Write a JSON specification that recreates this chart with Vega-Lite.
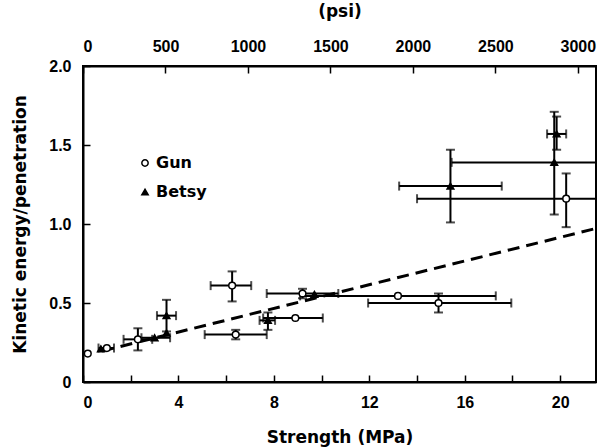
{
  "$schema": "https://vega.github.io/schema/vega-lite/v6.json",
  "width": 513,
  "height": 316,
  "autosize": {"type": "none"},
  "padding": {"left": 83, "top": 66, "right": 10, "bottom": 66},
  "background": "white",
  "datasets": {
    "pts": [
      {"s": "Gun", "x": 0.2, "y": 0.18, "xmin": null, "xmax": null, "ymin": null, "ymax": null},
      {"s": "Gun", "x": 1.0, "y": 0.215, "xmin": 0.65, "xmax": 1.3, "ymin": null, "ymax": null},
      {"s": "Gun", "x": 2.3, "y": 0.27, "xmin": 1.7, "xmax": 2.9, "ymin": 0.2, "ymax": 0.34},
      {"s": "Gun", "x": 6.25, "y": 0.61, "xmin": 5.35, "xmax": 7.05, "ymin": 0.51, "ymax": 0.7},
      {"s": "Gun", "x": 6.4, "y": 0.3, "xmin": 5.1, "xmax": 7.7, "ymin": 0.27, "ymax": 0.33},
      {"s": "Gun", "x": 8.9, "y": 0.405, "xmin": 7.55, "xmax": 10.05, "ymin": null, "ymax": null},
      {"s": "Gun", "x": 9.2, "y": 0.56, "xmin": 7.7, "xmax": 10.7, "ymin": 0.53, "ymax": 0.59},
      {"s": "Gun", "x": 13.2, "y": 0.545, "xmin": 9.1, "xmax": 17.3, "ymin": null, "ymax": null},
      {"s": "Gun", "x": 14.9, "y": 0.5, "xmin": 11.95, "xmax": 17.95, "ymin": 0.44, "ymax": 0.56},
      {"s": "Gun", "x": 20.25, "y": 1.16, "xmin": 14.0, "xmax": 26.5, "ymin": 0.98, "ymax": 1.32},
      {"s": "Betsy", "x": 0.75, "y": 0.21, "xmin": null, "xmax": null, "ymin": null, "ymax": null},
      {"s": "Betsy", "x": 3.0, "y": 0.28, "xmin": 2.45, "xmax": 3.65, "ymin": null, "ymax": null},
      {"s": "Betsy", "x": 3.5, "y": 0.42, "xmin": 3.1, "xmax": 3.9, "ymin": 0.32, "ymax": 0.52},
      {"s": "Betsy", "x": 3.5, "y": 0.31, "xmin": null, "xmax": null, "ymin": null, "ymax": null},
      {"s": "Betsy", "x": 7.75, "y": 0.39, "xmin": 7.4, "xmax": 8.05, "ymin": 0.33, "ymax": 0.44},
      {"s": "Betsy", "x": 9.7, "y": 0.555, "xmin": null, "xmax": null, "ymin": null, "ymax": null},
      {"s": "Betsy", "x": 15.4, "y": 1.24, "xmin": 13.25, "xmax": 17.55, "ymin": 1.01, "ymax": 1.47},
      {"s": "Betsy", "x": 19.75, "y": 1.39, "xmin": 15.45, "xmax": 24.0, "ymin": 1.06, "ymax": 1.71},
      {"s": "Betsy", "x": 19.85, "y": 1.57, "xmin": 19.45, "xmax": 20.25, "ymin": 1.47, "ymax": 1.68}
    ],
    "fit": [{"x": 0.8, "y": 0.196}, {"x": 21.5, "y": 0.972}],
    "psi": [{"psi": 0}, {"psi": 3000}]
  },
  "layer": [
    {
      "data": {"name": "pts"},
      "layer": [
        {
          "mark": {"type": "rule", "color": "black", "strokeWidth": 2, "clip": true},
          "encoding": {
            "x": {"field": "xmin", "type": "quantitative", "title": "Strength (MPa)",
                  "scale": {"domain": [0, 21.5], "nice": false, "zero": false},
                  "axis": {"values": [0, 2, 4, 6, 8, 10, 12, 14, 16, 18, 20],
                           "labelExpr": "datum.value % 4 == 0 ? datum.label : ''",
                           "grid": false, "titlePadding": 19}},
            "x2": {"field": "xmax"},
            "y": {"field": "y", "type": "quantitative", "title": "Kinetic energy/penetration",
                  "scale": {"domain": [0, 2], "nice": false},
                  "axis": {"values": [0, 0.5, 1, 1.5, 2],
                           "labelExpr": "datum.value == 0 ? '0' : format(datum.value, '.1f')",
                           "grid": false, "titlePadding": 19}}
          }
        },
        {
          "mark": {"type": "rule", "color": "black", "strokeWidth": 2, "clip": true},
          "encoding": {
            "x": {"field": "x", "type": "quantitative", "title": "Strength (MPa)"},
            "y": {"field": "ymin", "type": "quantitative", "title": "Kinetic energy/penetration"},
            "y2": {"field": "ymax"}
          }
        },
        {
          "mark": {"type": "tick", "orient": "vertical", "color": "black", "size": 9, "thickness": 2, "clip": true},
          "encoding": {
            "x": {"field": "xmin", "type": "quantitative", "title": "Strength (MPa)"},
            "y": {"field": "y", "type": "quantitative", "title": "Kinetic energy/penetration"}
          }
        },
        {
          "mark": {"type": "tick", "orient": "vertical", "color": "black", "size": 9, "thickness": 2, "clip": true},
          "encoding": {
            "x": {"field": "xmax", "type": "quantitative", "title": "Strength (MPa)"},
            "y": {"field": "y", "type": "quantitative", "title": "Kinetic energy/penetration"}
          }
        },
        {
          "mark": {"type": "tick", "orient": "horizontal", "color": "black", "size": 9, "thickness": 2, "clip": true},
          "encoding": {
            "x": {"field": "x", "type": "quantitative", "title": "Strength (MPa)"},
            "y": {"field": "ymin", "type": "quantitative", "title": "Kinetic energy/penetration"}
          }
        },
        {
          "mark": {"type": "tick", "orient": "horizontal", "color": "black", "size": 9, "thickness": 2, "clip": true},
          "encoding": {
            "x": {"field": "x", "type": "quantitative", "title": "Strength (MPa)"},
            "y": {"field": "ymax", "type": "quantitative", "title": "Kinetic energy/penetration"}
          }
        },
        {
          "data": {"name": "fit"},
          "mark": {"type": "line", "color": "black", "strokeWidth": 3, "strokeDash": [12, 7], "clip": true},
          "encoding": {
            "x": {"field": "x", "type": "quantitative", "title": "Strength (MPa)"},
            "y": {"field": "y", "type": "quantitative", "title": "Kinetic energy/penetration"}
          }
        },
        {
          "mark": {"type": "point", "strokeWidth": 1.5, "filled": false, "opacity": 1, "size": 45},
          "encoding": {
            "x": {"field": "x", "type": "quantitative", "title": "Strength (MPa)"},
            "y": {"field": "y", "type": "quantitative", "title": "Kinetic energy/penetration"},
            "shape": {"field": "s", "type": "nominal", "title": null,
                      "scale": {"domain": ["Gun", "Betsy"], "range": ["circle", "triangle-up"]},
                      "legend": {"orient": "none", "legendX": 54, "legendY": 89, "rowPadding": 13,
                                 "symbolSize": 40, "symbolStrokeWidth": 1.5,
                                 "labelFontSize": 16, "labelFont": "DejaVu Sans", "labelFontWeight": "bold",
                                 "labelColor": "black", "labelOffset": 3}},
            "fill": {"field": "s", "type": "nominal", "title": null,
                     "scale": {"domain": ["Gun", "Betsy"], "range": ["white", "black"]}},
            "stroke": {"field": "s", "type": "nominal", "title": null,
                       "scale": {"domain": ["Gun", "Betsy"], "range": ["black", "black"]}}
          }
        }
      ]
    },
    {
      "data": {"name": "psi"},
      "mark": {"type": "point", "opacity": 0},
      "encoding": {
        "x": {"field": "psi", "type": "quantitative", "title": "(psi)",
              "scale": {"domain": [0, 3110], "nice": false},
              "axis": {"orient": "top", "values": [0, 500, 1000, 1500, 2000, 2500, 3000],
                       "format": "d", "grid": false, "titleY": -50, "titleBaseline": "alphabetic"}}
      }
    }
  ],
  "resolve": {"scale": {"x": "independent"}},
  "config": {
    "view": {"stroke": "black", "strokeWidth": 2},
    "font": "Liberation Sans",
    "axis": {
      "domainColor": "black", "domainWidth": 2,
      "tickColor": "black", "tickWidth": 1.5, "tickSize": -7,
      "labelPadding": 19, "labelColor": "black", "labelFont": "Liberation Sans",
      "labelFontSize": 16, "labelFontWeight": "bold",
      "titleColor": "black", "titleFont": "DejaVu Sans", "titleFontSize": 17, "titleFontWeight": "bold"
    }
  }
}
